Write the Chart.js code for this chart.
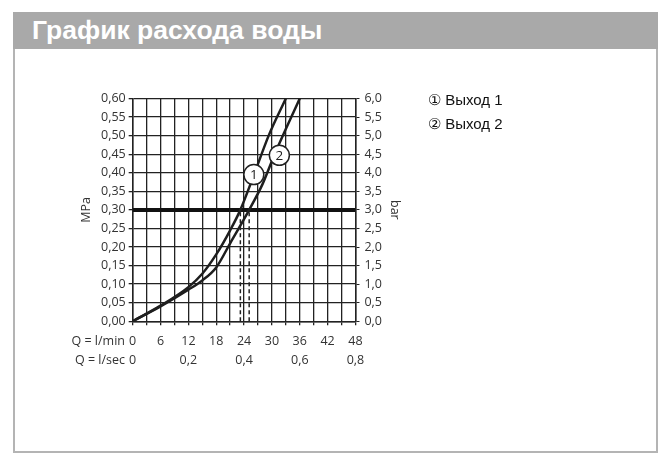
<!DOCTYPE html>
<html>
<head>
<meta charset="utf-8">
<script src="https://cdn.jsdelivr.net/npm/chart.js@4"></script>
<style>
  body { margin: 0; background: #fff; width: 669px; height: 467px; position: relative; overflow: hidden; font-family: "Liberation Sans", Arial, sans-serif; }
  #title { position: absolute; left: 13px; top: 12px; width: 645px; height: 37px; background: #a9a9a9; color: #fff; font-weight: bold; font-size: 26.5px; line-height: 37px; padding-left: 19px; box-sizing: border-box; }
  #box { position: absolute; left: 13px; top: 49px; width: 645px; height: 404px; border: 2px solid #b4b4b4; border-top: none; box-sizing: border-box; }
  #wrap { position: absolute; left: 75px; top: 86px; width: 360px; height: 290px; }
  .legend { position: absolute; left: 428px; font-size: 15px; color: #111; }
  .qlab { position: absolute; font-family: "Open Sans", sans-serif; font-size: 12.5px; color: #333; text-align: right; width: 75px; white-space: nowrap; }
</style>
</head>
<body>
<div id="title">График расхода воды</div>
<div id="box"></div>
<div id="wrap"><canvas id="chart-flow"></canvas></div>
<div class="legend" style="top:91px">① Выход 1</div>
<div class="legend" style="top:115px">② Выход 2</div>
<div class="qlab" style="left:50px; top:332px">Q = l/min</div>
<div class="qlab" style="left:50px; top:351px">Q = l/sec</div>
<script>
var curve1Q = [0, 6, 12, 15, 18, 21, 23.2, 26, 29.3, 33];
var curve1P = [0, 0.042, 0.092, 0.128, 0.18, 0.245, 0.30, 0.39, 0.50, 0.60];
var curve2Q = [0, 6, 12, 15, 18, 21, 25.1, 28, 30.6, 36];
var curve2P = [0, 0.04, 0.085, 0.11, 0.145, 0.21, 0.30, 0.37, 0.45, 0.60];
var refPressure = 0.30;
var flowAtRef = [23.2, 25.1];
var markerNames = ['1', '2'];
var markerQ = [26.1, 31.6];
var markerP = [0.395, 0.447];
var minLabels = ['0', '6', '12', '18', '24', '30', '36', '42', '48'];
var secLabels = ['0', '', '0,2', '', '0,4', '', '0,6', '', '0,8'];
var mpaLabels = ['0,00', '0,05', '0,10', '0,15', '0,20', '0,25', '0,30', '0,35', '0,40', '0,45', '0,50', '0,55', '0,60'];
var barLabels = ['0,0', '0,5', '1,0', '1,5', '2,0', '2,5', '3,0', '3,5', '4,0', '4,5', '5,0', '5,5', '6,0'];

function pts(xs, ys) {
    return xs.map(function (x, i) { return { x: x, y: ys[i] }; });
}

var tickFont = { family: 'Open Sans', size: 12.5 };

var markerText = {
    id: 'markerText',
    afterDatasetsDraw: function (chart) {
        var ctx = chart.ctx;
        var sx = chart.scales.x, sy = chart.scales.y;
        ctx.save();
        ctx.fillStyle = '#222';
        ctx.font = '13.5px "Open Sans"';
        ctx.textAlign = 'center';
        ctx.textBaseline = 'middle';
        markerNames.forEach(function (n, i) {
            ctx.fillText(n, sx.getPixelForValue(markerQ[i]), sy.getPixelForValue(markerP[i]) + 1);
        });
        ctx.restore();
    }
};

var ctx = document.getElementById('chart-flow');
var datasets = [
    { data: pts(curve1Q, curve1P), borderColor: '#1e1e1e', borderWidth: 2.5, cubicInterpolationMode: 'monotone', pointRadius: 0 },
    { data: pts(curve2Q, curve2P), borderColor: '#1e1e1e', borderWidth: 2.5, cubicInterpolationMode: 'monotone', pointRadius: 0 },
    { data: [{ x: 0, y: refPressure }, { x: 48, y: refPressure }], borderColor: '#111', borderWidth: 4, pointRadius: 0 },
    { data: [{ x: flowAtRef[0], y: 0 }, { x: flowAtRef[0], y: refPressure }], borderColor: '#222', borderWidth: 1.5, borderDash: [4, 3], pointRadius: 0 },
    { data: [{ x: flowAtRef[1], y: 0 }, { x: flowAtRef[1], y: refPressure }], borderColor: '#222', borderWidth: 1.5, borderDash: [4, 3], pointRadius: 0 },
    { data: pts(markerQ, markerP), showLine: false, order: -1, pointRadius: 10, pointBackgroundColor: '#fff', pointBorderColor: '#222', pointBorderWidth: 1.5 }
];

new Chart(ctx, {
    type: 'line',
    data: { datasets: datasets },
    options: {
        responsive: true,
        maintainAspectRatio: false,
        animation: false,
        layout: { padding: { left: 0, right: 33, top: 6, bottom: 0 } },
        plugins: { legend: { display: false }, tooltip: { enabled: false } },
        scales: {
            x: {
                type: 'linear', min: 0, max: 48,
                border: { color: '#222', width: 1.5 },
                grid: { color: '#222', lineWidth: 1.3, tickLength: 4 },
                ticks: {
                    stepSize: 3, autoSkip: false, maxRotation: 0, padding: 6, color: '#333',
                    font: { family: 'Open Sans', size: 12.5, lineHeight: 1.55 },
                    callback: function (v) {
                        if (v % 6 !== 0) return '';
                        var i = v / 6;
                        return [minLabels[i], secLabels[i]];
                    }
                }
            },
            y: {
                min: 0, max: 0.6, position: 'left',
                border: { color: '#222', width: 1.5 },
                grid: { color: '#222', lineWidth: 1.3, tickLength: 4 },
                title: { display: true, text: 'MPa', color: '#333', font: { family: 'Open Sans', size: 12.5 } },
                ticks: {
                    stepSize: 0.05, color: '#333', font: tickFont,
                    callback: function (v) { return mpaLabels[Math.round(v / 0.05)]; }
                }
            },
            y2: {
                min: 0, max: 6, position: 'right',
                border: { color: '#222', width: 1.5 },
                grid: { drawOnChartArea: false, color: '#222', tickLength: 4 },
                title: { display: true, text: 'bar', color: '#333', padding: 0, font: { family: 'Open Sans', size: 12.5 } },
                ticks: {
                    stepSize: 0.5, padding: 5, color: '#333', font: tickFont,
                    callback: function (v) { return barLabels[Math.round(v / 0.5)]; }
                }
            }
        }
    },
    plugins: [markerText]
});
</script>
</body>
</html>
